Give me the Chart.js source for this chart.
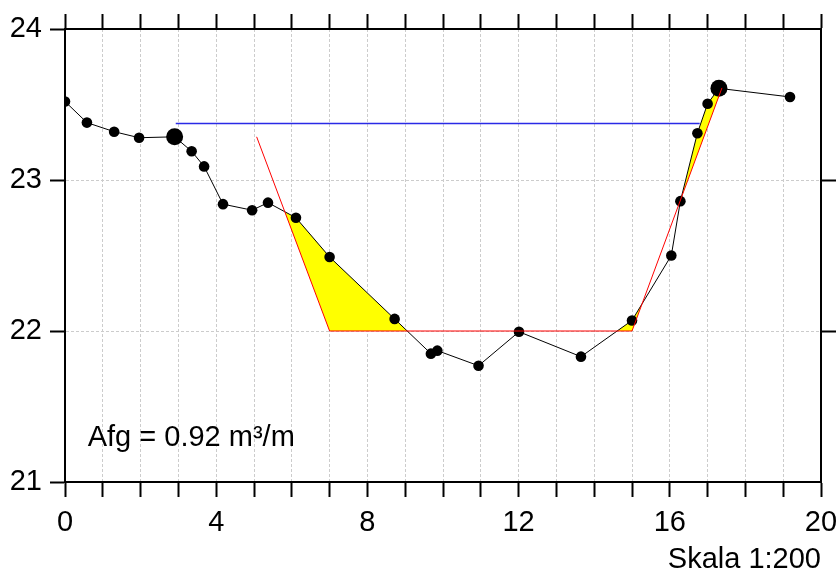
<!DOCTYPE html>
<html>
<head>
<meta charset="utf-8">
<script src="https://cdn.jsdelivr.net/npm/chart.js@4/dist/chart.umd.min.js"></script>
<style>
  html, body { margin: 0; padding: 0; background: #fff; }
  canvas { display: block; }
</style>
</head>
<body>
<canvas id="profile" width="839" height="575"></canvas>
<script>
// measured terrain profile (distance m, level m)
var terrainX = [0, 0.58, 1.30, 1.96, 2.90, 3.35, 3.68, 4.18, 4.95, 5.37, 6.11, 7.00, 8.72, 9.68, 9.85, 10.94, 12.01, 13.65, 15.00, 16.04, 16.28, 16.73, 17.00, 17.30, 19.18];
var terrainY = [23.52, 23.38, 23.32, 23.28, 23.286, 23.19, 23.09, 22.84, 22.80, 22.85, 22.75, 22.49, 22.08, 21.85, 21.87, 21.77, 21.995, 21.83, 22.07, 22.50, 22.86, 23.31, 23.505, 23.607, 23.55];
// bank top points are drawn larger
var bankPoints = [4, 23];

// design profile
var designX = [5.07, 7.0, 15.0, 17.38];
var designY = [23.286, 22.0, 22.0, 23.61];

// water level
var waterX = [2.93, 16.79];
var waterY = [23.375, 23.375];

var xTicks = [0, 4, 8, 12, 16, 20];
var yTicks = [21, 22, 23, 24];
var areaLabel = 'Afg = 0.92 m³/m';
var scaleLabel = 'Skala 1:200';

var FONT = '"Liberation Sans", Arial, sans-serif';
var FONT_SIZE = 29;

function toPoints(xs, ys) {
    return xs.map(function (x, i) { return {x: x, y: ys[i]}; });
}

function interp(xs, ys, x) {
    for (var i = 0; i < xs.length - 1; i++) {
        if (x >= xs[i] && x <= xs[i + 1]) {
            var t = (x - xs[i]) / (xs[i + 1] - xs[i]);
            return ys[i] + t * (ys[i + 1] - ys[i]);
        }
    }
    return x < xs[0] ? ys[0] : ys[ys.length - 1];
}

// parts where the terrain lies above the design profile (excavation)
function excavationAreas() {
    var lo = designX[0], hi = designX[designX.length - 1];
    var diff = function (x) { return interp(terrainX, terrainY, x) - interp(designX, designY, x); };
    var xs = terrainX.concat(designX).filter(function (x) { return x >= lo && x <= hi; });
    xs = xs.filter(function (x, i) { return xs.indexOf(x) === i; }).sort(function (a, b) { return a - b; });

    var pts = [];
    for (var i = 0; i < xs.length; i++) {
        pts.push(xs[i]);
        if (i < xs.length - 1) {
            var da = diff(xs[i]), db = diff(xs[i + 1]);
            if (da * db < 0) pts.push(xs[i] + (xs[i + 1] - xs[i]) * da / (da - db));
        }
    }

    var runs = [], run = [];
    pts.forEach(function (x) {
        if (diff(x) > -1e-9) {
            run.push(x);
        } else {
            if (run.length > 1) runs.push(run);
            run = [];
        }
    });
    if (run.length > 1) runs.push(run);

    return runs.map(function (r) {
        var top = r.map(function (x) { return {x: x, y: interp(terrainX, terrainY, x)}; });
        var bottom = r.slice().reverse().map(function (x) { return {x: x, y: interp(designX, designY, x)}; });
        return top.concat(bottom);
    });
}

var datasets = [
    {
        data: toPoints(designX, designY),
        borderColor: '#ff0000',
        borderWidth: 1,
        pointRadius: 0,
        fill: false
    },
    {
        data: toPoints(terrainX, terrainY),
        borderColor: '#000000',
        borderWidth: 1,
        pointRadius: terrainX.map(function (x, i) { return bankPoints.indexOf(i) >= 0 ? 8.5 : 5.3; }),
        pointBackgroundColor: '#000000',
        pointBorderWidth: 0,
        clip: 0,
        fill: false
    },
    {
        data: toPoints(waterX, waterY),
        borderColor: '#2a2ae6',
        borderWidth: 1.5,
        pointRadius: 0,
        fill: false
    }
];

excavationAreas().forEach(function (poly) {
    datasets.push({
        data: poly,
        borderWidth: 0,
        borderColor: 'rgba(0,0,0,0)',
        backgroundColor: '#ffff00',
        pointRadius: 0,
        fill: 'shape'
    });
});

var notesPlugin = {
    id: 'notes',
    afterDraw: function (chart) {
        var ctx = chart.ctx;
        var sx = chart.scales.x, sy = chart.scales.y;
        ctx.save();
        ctx.fillStyle = '#000';
        ctx.font = FONT_SIZE + 'px ' + FONT;
        ctx.textBaseline = 'alphabetic';
        ctx.textAlign = 'left';
        ctx.fillText(areaLabel, sx.getPixelForValue(0.6), sy.getPixelForValue(21.237));
        ctx.textAlign = 'right';
        ctx.fillText(scaleLabel, chart.chartArea.right, 568);
        ctx.restore();
    }
};

var axisBorder = {display: true, color: '#000', width: 2, dash: [3, 2]};

function noPadding(s) {
    s.paddingLeft = 0;
    s.paddingRight = 0;
    s.paddingTop = 0;
    s.paddingBottom = 0;
}

new Chart(document.getElementById('profile'), {
    type: 'line',
    data: {datasets: datasets},
    plugins: [notesPlugin],
    options: {
        responsive: false,
        animation: false,
        layout: {padding: 0},
        plugins: {legend: {display: false}, tooltip: {enabled: false}, title: {display: false}},
        scales: {
            x: {
                type: 'linear', position: 'bottom', min: 0, max: 20,
                border: axisBorder,
                grid: {color: '#cccccc', lineWidth: 1, tickColor: '#000', tickWidth: 2, tickLength: 15, tickBorderDash: []},
                ticks: {
                    stepSize: 1, autoSkip: false, maxRotation: 0, padding: 9,
                    color: '#000', font: {family: FONT, size: FONT_SIZE},
                    callback: function (v) { return xTicks.indexOf(v) >= 0 ? String(v) : ''; }
                },
                afterFit: function (s) { s.height = 93; noPadding(s); }
            },
            x2: {
                type: 'linear', position: 'top', min: 0, max: 20,
                border: axisBorder,
                grid: {drawOnChartArea: false, tickColor: '#000', tickWidth: 2, tickLength: 15, tickBorderDash: []},
                ticks: {stepSize: 1, autoSkip: false, display: false},
                afterFit: function (s) { s.height = 29; noPadding(s); }
            },
            y: {
                type: 'linear', position: 'left', min: 21, max: 24,
                border: axisBorder,
                grid: {color: '#cccccc', lineWidth: 1, tickColor: '#000', tickWidth: 2, tickLength: 15, tickBorderDash: []},
                ticks: {
                    stepSize: 1, autoSkip: false, padding: 8,
                    color: '#000', font: {family: FONT, size: FONT_SIZE},
                    callback: function (v) { return yTicks.indexOf(v) >= 0 ? String(v) : ''; }
                },
                afterFit: function (s) { s.width = 65; noPadding(s); }
            },
            y2: {
                type: 'linear', position: 'right', min: 21, max: 24,
                border: axisBorder,
                grid: {
                    drawOnChartArea: false, tickWidth: 2, tickLength: 15, tickBorderDash: [],
                    tickColor: function (c) { return (c.tick && (c.tick.value === 22 || c.tick.value === 23)) ? '#000' : 'rgba(0,0,0,0)'; }
                },
                ticks: {stepSize: 1, autoSkip: false, display: false},
                afterFit: function (s) { s.width = 18; noPadding(s); }
            }
        }
    }
});
</script>
</body>
</html>
